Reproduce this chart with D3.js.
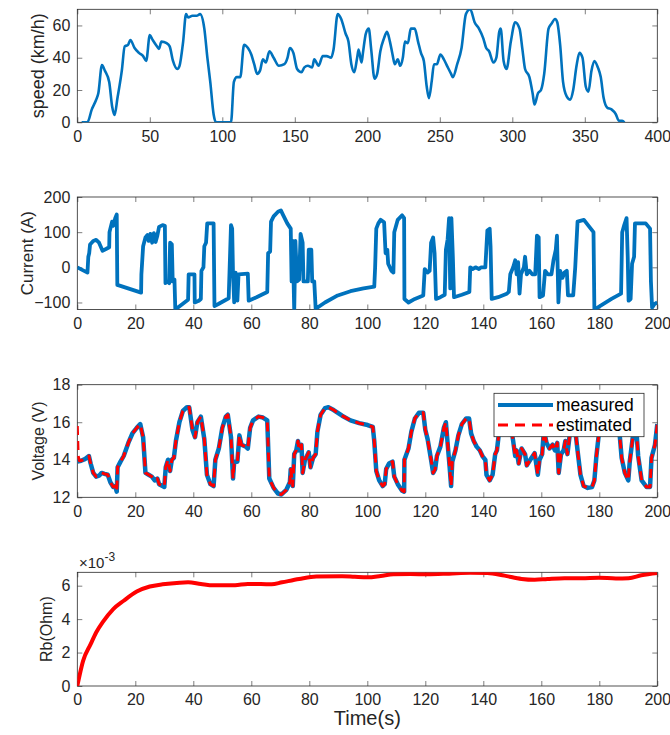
<!DOCTYPE html>
<html>
<head>
<meta charset="utf-8">
<script src="https://cdn.jsdelivr.net/npm/d3@7"></script>
<style>
  body { margin: 0; background: #fff; }
  svg { display: block; }
</style>
</head>
<body>
<svg id="fig" width="670" height="735"></svg>
<script>
// speed profile, [time s, km/h]
const speedData = [[3,0],[7,0],[10,8],[13,14],[14.5,18],[17,35.5],[19,32],[22,25],[24,10],[25.7,4.5],[27.7,15],[30.7,32],[32.7,47],[35,48],[36.6,51],[39.5,46],[42.5,43],[45.4,41],[47.5,38],[50,54],[52,51],[55,47],[56.3,45.5],[58,50],[61.6,49],[63.7,47],[66,38],[69,33],[70.5,35],[73,50],[75,67],[76.4,65],[79.4,66],[82.3,66],[84.7,67],[87.6,58],[89.7,40],[91.7,25],[94,5],[95.6,0],[106,0],[108,25],[110,28],[112.4,28],[115,48],[117.7,46],[120,42],[122,36],[124,30],[126,32],[128,39],[130,37],[132.5,44],[135.4,40],[139,35],[142.8,36],[145,40],[146.6,46],[149,43],[151.6,33],[154.6,31],[156.6,34],[159,35],[162,34],[163.4,39],[166.4,35],[169.3,41],[172,41],[175,40],[176.7,45],[179.6,67],[182,64],[185,55],[187,50],[189,36],[191,31],[193,40],[194,45],[196,37],[197,43],[199,55],[201,58],[202.7,45],[205,27],[206.8,30],[209,44],[211.5,52],[213.6,56],[215.6,50],[217.4,42],[219,36],[221,39],[222.7,35],[224.5,40],[226,50],[228,49],[230,58],[232.7,58],[235,50],[237,43],[239,38],[241,22],[242.5,15],[244.5,26],[246,36],[248,36],[250.4,42],[252.8,39],[255,35],[257.8,30],[259,28],[262,36],[265,46],[268,67],[271,70],[274,62],[277,58],[280,52],[282,46],[284,44],[287,37],[289,40],[291,56],[292,58],[294,38],[296,33],[299,50],[302,62],[305,58],[307,45],[308.8,33],[311.8,28],[314,18],[315.3,11],[317.7,18],[319.8,20],[322,30],[325,58],[327,61],[329.5,64],[331,62],[333,48],[335,25],[337.5,16],[340,14],[342,20],[344.3,35],[346.3,43],[348.4,40],[350.7,22],[352.5,19],[354.6,32],[356.6,38],[359,34],[361,28],[363,15],[365.5,9],[368.4,8],[371.4,5],[373.5,1],[375.8,1],[377.3,0]];

// battery current, [time s, A]
const currentData = [[0,0],[3.5,-15],[3.8,30],[4.1,40],[4.4,65],[5.5,75],[6.5,78],[7.5,70],[8.7,47],[9.9,52],[11,57],[11.1,100],[12,130],[12.4,118],[13.1,140],[13.6,150],[13.8,-50],[22,-72],[22.1,-20],[22.7,60],[23.5,85],[24.2,92],[24.6,75],[25.2,95],[25.8,70],[26.4,97],[27,72],[27.6,90],[28.2,115],[29.4,120],[30.2,118],[30.4,-45],[31.1,-40],[31.7,-45],[32,70],[32.6,65],[32.9,-40],[33.5,-35],[33.8,-120],[38.2,-92],[38.4,-20],[40.4,-20],[40.5,-100],[41.9,-95],[42.6,-90],[42.8,-10],[43.5,0],[43.8,60],[44.4,70],[44.8,125],[47,125],[47.3,-110],[48.5,-105],[52.2,-88],[52.5,-10],[53,120],[53.4,110],[53.7,-20],[54.1,-100],[54.6,-15],[55.2,-95],[55.6,-20],[58.8,-18],[59.1,-95],[61.8,-85],[65.5,-70],[65.8,40],[66.5,45],[66.8,130],[67.7,145],[69.2,158],[70.2,162],[70.9,150],[72.4,125],[73.6,110],[73.9,-40],[74.3,75],[74.8,-125],[75.2,75],[75.8,-40],[76.5,-35],[77,95],[77.7,70],[78,-40],[79.5,-40],[79.8,50],[80.7,50],[81,-40],[81.7,-40],[82.2,-118],[85.4,-100],[89.8,-80],[94.2,-68],[98.7,-60],[102.4,-55],[102.7,0],[103.1,110],[103.8,125],[104.6,135],[105.8,128],[106.3,40],[106.9,50],[107.2,10],[108.3,-10],[109,-15],[109.3,100],[110.5,135],[112,148],[112.7,140],[112.8,-90],[114.2,-100],[116.4,-90],[119.3,-80],[119.8,-5],[120.8,-15],[121.5,-10],[122,70],[122.7,85],[123.2,40],[123.7,-90],[125.2,-85],[126.7,-78],[127.1,50],[127.7,80],[128.2,140],[128.6,-60],[129,140],[129.5,30],[129.9,-85],[132.6,-78],[135.2,-70],[135.5,0],[136.3,-5],[137.3,0],[138.5,-5],[139.2,0],[140.7,0],[141.4,105],[142.2,110],[142.5,60],[142.9,-90],[145.1,-85],[148.1,-75],[148.8,-70],[149.3,-20],[150.3,0],[151,20],[151.5,-20],[152,15],[152.5,-75],[153,-20],[154,0],[154.4,30],[155,-20],[155.9,-10],[156.9,-20],[157.9,-20],[158.5,90],[159.1,85],[159.4,-85],[160.6,-80],[161.3,-10],[162.3,-20],[163.5,-20],[164.2,20],[165,50],[165.4,90],[165.9,-100],[166.5,-10],[167.3,-30],[168,-15],[168.8,-10],[169.2,-80],[171,-80],[171.7,0],[172.5,130],[174.7,135],[176.1,120],[178,100],[178.3,-120],[181.3,-105],[184.2,-90],[187.5,-75],[187.9,100],[188.6,120],[189.4,140],[189.8,30],[190.1,-95],[190.8,-90],[191.3,10],[192,30],[192.3,125],[196,125],[197.5,110],[197.8,-40],[198.2,-115],[199,-105],[200,-100]];

// terminal voltage, measured, [time s, V]
const voltMeasured = [[0,13.9],[1.3,13.95],[2.8,14.05],[4,14.2],[4.6,13.8],[5.5,13.3],[6.5,13.1],[7.5,13.15],[8.4,13.3],[9.4,13.25],[10.5,13.2],[11.4,12.8],[12.4,12.55],[13.1,12.6],[13.6,12.3],[13.9,13.6],[14.9,13.9],[16,14.2],[17.6,14.9],[19,15.4],[20.5,15.7],[21.7,15.9],[22.7,15.2],[23.5,13.3],[24.6,13.2],[25.7,13.1],[26.7,12.9],[27.6,13],[28.2,12.7],[29.4,12.6],[30,12.55],[30.5,13.6],[31.3,14],[32,13.4],[32.6,14],[33.3,14.1],[34,15],[35.2,16],[36.4,16.6],[37.8,16.8],[38.6,16.8],[39.7,15.6],[40.6,15.2],[41.4,16],[42.6,16.3],[43.8,15.1],[44.7,13.2],[45.9,12.7],[47,12.6],[47.6,14],[48.8,14.6],[50,15.7],[51.2,16.3],[51.9,16.4],[53,15.2],[53.7,13],[54.1,13.9],[55.2,13.9],[55.9,15.3],[56.6,14.8],[58.1,14.7],[58.8,14.6],[59.6,15.7],[60.6,16.1],[62.5,16.3],[64,16.25],[65.5,16.1],[66.2,13],[67.7,12.5],[69.2,12.2],[70.4,12.15],[72.1,12.4],[73.3,12.8],[73.6,13.5],[74.3,12.6],[74.8,14.3],[75.5,14.5],[76.1,15],[76.5,14.5],[77.3,14.8],[77.7,13.3],[78.5,14],[79.2,14.2],[79.8,14.4],[80.4,13.6],[81.3,14.1],[82.2,14.3],[82.8,15.5],[83.9,16.4],[85.4,16.75],[86.6,16.8],[88.4,16.65],[91.3,16.35],[94.2,16.1],[97.2,15.95],[100.1,15.85],[101.9,15.75],[102.4,15],[103.1,13.4],[104.1,12.9],[105.3,12.6],[106,12.7],[106.5,13.5],[107.5,13.8],[108.7,13.9],[109.3,13.1],[110.5,12.7],[112,12.35],[112.7,12.3],[112.8,14],[114.2,14.6],[115.2,15.5],[116.4,16.2],[117.8,16.5],[119.3,16.5],[120,15.6],[120.8,15.1],[122,14],[122.7,13.3],[123.4,13.5],[124,14.2],[125.2,14.7],[126.4,15.7],[127.1,16],[127.9,14.5],[128.4,13.6],[128.9,12.6],[129.3,13.9],[130.4,14.5],[131.4,15.3],[132.6,15.9],[134.1,16.2],[135.1,16.2],[135.8,15.4],[136.7,15],[137.7,14.7],[138.8,14.5],[139.7,14.2],[140.7,14],[141.1,13.2],[142.2,12.9],[143.2,13.2],[144.1,14.3],[144.7,14.5],[145.6,15.7],[146.8,16.3],[148.2,16.4],[149.5,15.8],[150.3,15],[151,14.2],[151.5,14.5],[152.2,13.8],[153.2,14.6],[154.4,14.3],[155,13.7],[156.2,14],[157.7,14.35],[158.8,13.2],[159.4,14],[160.3,14.3],[160.9,15.6],[161.8,14.9],[162.8,14.6],[163.9,14.8],[164.7,14.5],[165.5,14.9],[166,13.3],[166.8,14.3],[167.7,14.5],[168.3,15],[169,14.3],[169.7,15.2],[170.6,16.2],[171.7,15.6],[172.5,14.5],[173.5,13.2],[174.6,12.6],[176,12.5],[177.5,12.55],[178.3,12.9],[179,14.2],[179.8,15.3],[181,16],[183,16.4],[185,16.3],[186.5,15.8],[187.1,15.2],[187.7,14.1],[188.8,13.3],[190,12.9],[190.5,13.9],[191.7,15.4],[192.6,16],[193.4,14.2],[194.6,12.9],[196.3,12.55],[197.5,12.55],[198,14.1],[199.2,14.8],[200,15.9]];

// estimator start-up before it locks onto the measurement
const voltEstimatedStart = [[0,15.8],[0.3,14.2],[0.7,13.95]];

// estimated Rb, [time s, Ohm x 1e-3]
const rbData = [[0,0],[2,1.5],[4.6,2.5],[6.5,3.2],[8.7,3.8],[12.4,4.6],[16,5.1],[20.5,5.65],[25,5.95],[29.4,6.08],[35.3,6.18],[38.2,6.2],[42.6,6.1],[47,6.02],[54.4,6.03],[58.8,6.1],[63.3,6.1],[67,6.08],[70.6,6.2],[76.5,6.4],[82.4,6.55],[91.3,6.57],[95.7,6.53],[100.1,6.5],[104.6,6.58],[109,6.68],[114.9,6.7],[120.8,6.68],[128.2,6.72],[135.5,6.77],[141.4,6.76],[147.3,6.6],[153.2,6.4],[157.7,6.35],[162.1,6.4],[168,6.45],[173.9,6.45],[179.8,6.48],[185.7,6.43],[190.1,6.45],[194.5,6.62],[200,6.75]];

const speedTicksX = d3.range(0, 401, 50);
const timeTicksX = d3.range(0, 201, 20);
const speedTicksY = [0, 20, 40, 60];
const currentTicksY = [-100, 0, 100, 200];
const voltTicksY = [12, 14, 16, 18];
const rbTicksY = [0, 2, 4, 6];

const FONT = '"Liberation Sans", Arial, Helvetica, sans-serif';
const blue = "#0072BD", red = "#FF0000", ink = "#262626";
const left = 77.3, right = 657.3;
const fmt = d3.format("d");

const svg = d3.select("#fig").attr("font-family", FONT);
svg.append("rect").attr("width", 670).attr("height", 735).attr("fill", "#fff");

function styleAxis(sel, fs) {
  sel.select(".domain").remove();
  sel.attr("font-family", FONT).attr("font-size", fs);
  sel.selectAll(".tick line").attr("stroke", ink).attr("stroke-width", 0.6);
  sel.selectAll(".tick text").attr("fill", ink);
}

function makePanel(cfg) {
  const x = d3.scaleLinear().domain([0, cfg.xMax]).range([left, right]);
  const y = d3.scaleLinear().domain(cfg.yDomain).range([cfg.bottom, cfg.top]);
  const g = svg.append("g");

  g.append("clipPath").attr("id", "clip-" + cfg.id)
    .append("rect")
    .attr("x", left).attr("y", cfg.top)
    .attr("width", right - left).attr("height", cfg.bottom - cfg.top);

  g.append("g").attr("transform", `translate(0,${cfg.bottom})`)
    .call(d3.axisBottom(x).tickValues(cfg.xTicks).tickFormat(fmt).tickSizeInner(-5).tickSizeOuter(0).tickPadding(8))
    .call(styleAxis, cfg.fs);
  g.append("g").attr("transform", `translate(0,${cfg.top})`)
    .call(d3.axisTop(x).tickValues(cfg.xTicks).tickSizeInner(-5).tickSizeOuter(0).tickFormat(""))
    .call(styleAxis, cfg.fs);
  g.append("g").attr("transform", `translate(${left},0)`)
    .call(d3.axisLeft(y).tickValues(cfg.yTicks).tickFormat(fmt).tickSizeInner(-5).tickSizeOuter(0).tickPadding(7))
    .call(styleAxis, cfg.fs);
  g.append("g").attr("transform", `translate(${right},0)`)
    .call(d3.axisRight(y).tickValues(cfg.yTicks).tickSizeInner(-5).tickSizeOuter(0).tickFormat(""))
    .call(styleAxis, cfg.fs);

  g.append("rect")
    .attr("x", left).attr("y", cfg.top)
    .attr("width", right - left).attr("height", cfg.bottom - cfg.top)
    .attr("fill", "none").attr("stroke", ink).attr("stroke-width", 0.8);

  g.append("text")
    .attr("transform", `translate(${cfg.labelX},${(cfg.top + cfg.bottom) / 2}) rotate(-90)`)
    .attr("text-anchor", "middle").attr("dominant-baseline", "central")
    .attr("font-size", cfg.labelFs).attr("fill", ink)
    .text(cfg.label);

  const plot = g.append("g").attr("clip-path", `url(#clip-${cfg.id})`);
  return { x, y, g, plot };
}

function drawLine(p, data, color, width, dash, curve) {
  const line = d3.line().x(d => p.x(d[0])).y(d => p.y(d[1])).curve(curve || d3.curveLinear);
  p.plot.append("path").datum(data)
    .attr("d", line)
    .attr("fill", "none")
    .attr("stroke", color)
    .attr("stroke-width", width)
    .attr("stroke-linejoin", "round")
    .attr("stroke-dasharray", dash || null);
}

// speed
const p1 = makePanel({ id: 1, top: 9.3, bottom: 122.3, xMax: 400, xTicks: speedTicksX,
  yDomain: [0, 70], yTicks: speedTicksY, fs: 16, label: "speed (km/h)", labelX: 38, labelFs: 18 });
drawLine(p1, speedData, blue, 2.6, null, d3.curveMonotoneX);

// current
const p2 = makePanel({ id: 2, top: 197, bottom: 309.5, xMax: 200, xTicks: timeTicksX,
  yDomain: [-120, 200], yTicks: currentTicksY, fs: 16, label: "Current (A)", labelX: 27, labelFs: 17 });
drawLine(p2, currentData, blue, 3.8);

// voltage
const p3 = makePanel({ id: 3, top: 384.7, bottom: 497.3, xMax: 200, xTicks: timeTicksX,
  yDomain: [12, 18], yTicks: voltTicksY, fs: 16, label: "Voltage (V)", labelX: 38, labelFs: 16 });
const voltEstimated = voltEstimatedStart.concat(voltMeasured.filter(d => d[0] > 1));
drawLine(p3, voltMeasured, blue, 4.5);
drawLine(p3, voltEstimated, red, 3, "9,6");

// legend
const lg = p3.g.append("g");
lg.append("rect").attr("x", 494).attr("y", 393.3).attr("width", 150).attr("height", 43.4)
  .attr("fill", "#fff").attr("stroke", ink).attr("stroke-width", 0.8);
lg.append("line").attr("x1", 498).attr("x2", 553).attr("y1", 405).attr("y2", 405)
  .attr("stroke", blue).attr("stroke-width", 4);
lg.append("line").attr("x1", 498).attr("x2", 553).attr("y1", 425).attr("y2", 425)
  .attr("stroke", red).attr("stroke-width", 3).attr("stroke-dasharray", "10,7");
lg.selectAll("text.leg").data(["measured", "estimated"]).enter().append("text")
  .attr("x", 556).attr("y", (d, i) => 405 + i * 20)
  .attr("dominant-baseline", "central").attr("font-size", 17.5).attr("fill", "#000")
  .text(d => d);

// Rb
const p4 = makePanel({ id: 4, top: 572.3, bottom: 686, xMax: 200, xTicks: timeTicksX,
  yDomain: [0, 6.8], yTicks: rbTicksY, fs: 16, label: "Rb(Ohm)", labelX: 46.7, labelFs: 16 });
drawLine(p4, rbData, red, 4, null, d3.curveMonotoneX);

const expo = p4.g.append("text").attr("x", 79).attr("y", 568).attr("font-size", 15).attr("fill", ink);
expo.append("tspan").text("\u00d710");
expo.append("tspan").attr("dy", -7).attr("font-size", 12).text("-3");

svg.append("text")
  .attr("x", (left + right) / 2).attr("y", 718)
  .attr("text-anchor", "middle").attr("dominant-baseline", "central")
  .attr("font-size", 20).attr("fill", ink)
  .text("Time(s)");
</script>
</body>
</html>
